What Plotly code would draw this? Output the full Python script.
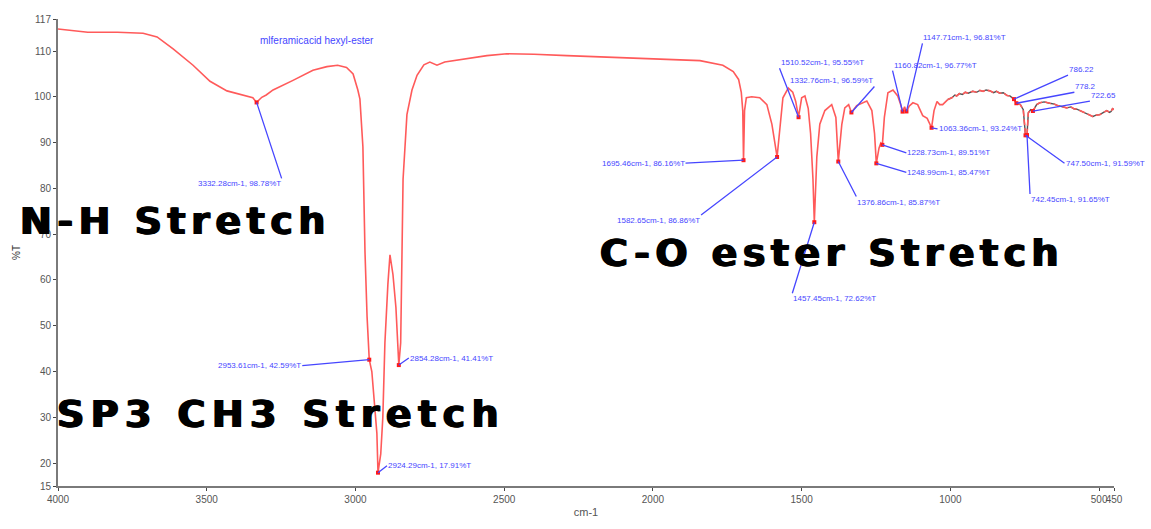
import plotly.graph_objects as go

# FT-IR spectrum of mlferamicacid hexyl-ester (wavenumber in cm-1, transmittance in %T)
wavenumber = [
    4000, 3950, 3900, 3800, 3714, 3667, 3613, 3546, 3489, 3432, 3378, 3345,
    3332.28, 3315, 3300, 3277, 3210, 3143, 3096, 3060, 3030, 3008, 2992, 2985,
    2975, 2968, 2961, 2953.61, 2945, 2935, 2928, 2924.29, 2915, 2908, 2901,
    2891, 2884, 2874, 2864, 2854.28, 2848, 2844, 2840, 2827, 2810, 2793, 2770,
    2750, 2735, 2726, 2700, 2672, 2558, 2491, 2400, 2289, 2121, 1953, 1842,
    1765, 1730, 1712, 1703, 1698, 1695.46, 1692, 1686, 1668, 1641, 1617, 1600,
    1582.65, 1573, 1563, 1545, 1530, 1520, 1510.52, 1500, 1489, 1478, 1470,
    1462, 1457.45, 1449, 1439, 1422, 1399, 1385, 1376.86, 1365, 1355, 1342,
    1332.76, 1315, 1281, 1264, 1255, 1248.99, 1240, 1234, 1228.73, 1222, 1210,
    1193, 1177, 1168, 1160.82, 1154, 1147.71, 1138, 1126, 1110, 1093, 1078,
    1063.36, 1055, 1045, 1036, 1026, 1009,
]
transmittance = [
    114.8, 114.5, 114.1, 114.1, 113.9, 113.1, 110.5, 106.9, 103.4, 101.3, 100.4, 99.8,
    98.78, 99.9, 100.4, 101.5, 103.6, 105.8, 106.6, 106.9, 106.4, 105.0, 101.5, 99.5,
    89.1, 66.2, 52.0, 42.59, 40.0, 33.0, 26.5, 17.91, 22.0, 30.0, 46.3,
    59.1, 65.5, 61.2, 54.0, 41.41, 46.3, 64.0, 82.0, 96.1, 101.5, 104.7, 107.0,
    107.6, 107.2, 106.9, 107.6, 107.9, 109.0, 109.4, 109.3, 109.0, 108.6, 108.3, 107.9,
    106.9, 105.5, 103.8, 101.0, 97.0, 86.16, 97.0, 99.8, 100.0, 99.8, 98.3, 94.0,
    86.86, 94.0, 99.8, 101.9, 101.0, 99.0, 95.55, 99.8, 100.2, 97.5, 92.0,
    82.0, 72.62, 86.9, 94.0, 97.0, 98.3, 95.5, 85.87, 94.0, 97.6, 98.3,
    96.59, 98.1, 99.1, 97.0, 92.0, 85.47, 88.8, 89.9, 89.51, 95.5, 100.9,
    101.5, 100.2, 98.5, 96.77, 97.8, 96.81, 98.0, 98.7, 98.3, 95.9, 95.3,
    93.24, 97.0, 99.0, 98.3, 98.3, 99.4,
]

# Fingerprint tail (1009 - 450 cm-1), drawn over the reference trace
tail_wavenumber = [
    1009, 995, 985, 979, 970, 960, 950, 940, 925, 912, 901, 890, 880, 867,
    855, 845, 834, 822, 810, 800, 786.22, 778.2, 765, 755, 747.50, 742.45,
    738, 730, 722.65, 710, 700, 685, 666, 650, 640, 625, 609, 595, 585,
    575, 565, 550, 540, 530, 521, 510, 498, 485, 474, 465, 460, 455, 450,
]
tail_transmittance = [
    99.4, 99.8, 100.4, 100.2, 100.7, 100.5, 101.0, 100.8, 101.2, 101.0, 101.4, 101.2,
    101.5, 101.3, 100.9, 101.2, 100.8, 100.9, 100.3, 100.2, 99.5, 98.6, 98.3, 97.2,
    91.59, 91.65, 96.5, 97.2, 96.9, 98.3, 98.7, 98.9, 98.6, 98.4, 98.1, 97.9,
    97.6, 97.8, 97.4, 97.3, 97.0, 96.6, 96.4, 96.0, 95.7, 96.0, 96.1, 96.6,
    97.0, 96.6, 96.8, 97.4, 97.2,
]

# Picked peaks: wavenumber, %T and the label printed next to each
peak_wn = [3332.28, 2953.61, 2924.29, 2854.28, 1695.46, 1582.65, 1510.52,
           1332.76, 1457.45, 1376.86, 1228.73, 1248.99, 1160.82, 1147.71,
           1063.36, 786.22, 778.2, 722.65, 747.50, 742.45]
peak_T = [98.78, 42.59, 17.91, 41.41, 86.16, 86.86, 95.55,
          96.59, 72.62, 85.87, 89.51, 85.47, 96.77, 96.81,
          93.24, 99.5, 98.6, 96.9, 91.59, 91.65]
peak_text = [
    "3332.28cm-1, 98.78%T", "2953.61cm-1, 42.59%T", "2924.29cm-1, 17.91%T",
    "2854.28cm-1, 41.41%T", "1695.46cm-1, 86.16%T", "1582.65cm-1, 86.86%T",
    "1510.52cm-1, 95.55%T", "1332.76cm-1, 96.59%T", "1457.45cm-1, 72.62%T",
    "1376.86cm-1, 85.87%T", "1228.73cm-1, 89.51%T", "1248.99cm-1, 85.47%T",
    "1160.82cm-1, 96.77%T", "1147.71cm-1, 96.81%T", "1063.36cm-1, 93.24%T",
    "786.22", "778.2", "722.65", "747.50cm-1, 91.59%T", "742.45cm-1, 91.65%T",
]
# leader-line tail offsets (px) and text anchoring for each peak label
label_ax = [25, -67, 9, 10, -58, -76, -19, 23, -22, 18, 24, 30, -10, 16, 6, 54, 58, 57, 39, 3]
label_ay = [76, 6, -7, -7, 3, 58, -49, -26, 71, 35, 8, 9, -41, -68, 1, -24, -11, -10, 28, 59]
label_xanchor = ["right", "right", "left", "left", "right", "right", "left", "right", "left",
                 "left", "left", "left", "left", "left", "left", "left", "left", "left",
                 "left", "left"]
label_yanchor = ["top", "middle", "middle", "middle", "middle", "top", "bottom", "bottom", "top",
                 "top", "middle", "middle", "bottom", "bottom", "middle", "bottom", "bottom",
                 "bottom", "middle", "top"]

x_ticks = [4000, 3500, 3000, 2500, 2000, 1500, 1000, 500, 450]
y_ticks = [15, 20, 30, 40, 50, 60, 70, 80, 90, 100, 110, 117]

RED = "#ff5a5a"
BLUE = "#4646ff"

fig = go.Figure()
fig.add_trace(go.Scatter(x=wavenumber, y=transmittance, mode="lines",
                         line=dict(color=RED, width=1.6), hoverinfo="skip"))
fig.add_trace(go.Scatter(x=tail_wavenumber, y=tail_transmittance, mode="lines",
                         line=dict(color="#555555", width=1.4), hoverinfo="skip"))
fig.add_trace(go.Scatter(x=tail_wavenumber, y=tail_transmittance, mode="lines",
                         line=dict(color=RED, width=1.6, dash="6px,3px"), hoverinfo="skip"))
fig.add_trace(go.Scatter(x=peak_wn, y=peak_T, mode="markers",
                         marker=dict(color="#ff1a1a", size=4, symbol="square"),
                         hoverinfo="skip"))

annotations = []
for wn, t, txt, ax, ay, xa, ya in zip(peak_wn, peak_T, peak_text, label_ax, label_ay,
                                      label_xanchor, label_yanchor):
    annotations.append(dict(
        x=wn, y=t, xref="x", yref="y", text=txt, showarrow=True,
        arrowhead=0, arrowwidth=1.3, arrowcolor=BLUE, ax=ax, ay=ay,
        xanchor=xa, yanchor=ya, standoff=0, borderpad=0,
        font=dict(family="Liberation Sans", size=8, color=BLUE),
    ))

annotations.append(dict(x=3129, y=112.2, xref="x", yref="y", showarrow=False,
                        text="mlferamicacid hexyl-ester",
                        font=dict(family="Liberation Sans", size=10, color=BLUE)))

# band assignments in large heavy lettering
big_font = dict(family="DejaVu Sans", size=38, color="#000000",
                shadow="0.9px 0 0 #000, -0.9px 0 0 #000")
for txt, px, py, spacing in [("N-H Stretch", -0.038, 0.567, 5.5),
                             ("SP3 CH3 Stretch", -0.003, 0.155, 6.4),
                             ("C-O ester Stretch", 0.511, 0.500, 5.4)]:
    annotations.append(dict(
        x=px, y=py, xref="paper", yref="paper", showarrow=False,
        text=f"<span style='letter-spacing:{spacing}px'><b>{txt}</b></span>",
        xanchor="left", yanchor="middle", font=big_font))

fig.update_layout(
    width=1151, height=529,
    margin=dict(l=58, r=37, t=19, b=35),
    paper_bgcolor="white", plot_bgcolor="white",
    showlegend=False,
    annotations=annotations,
    xaxis=dict(
        range=[4000, 450], tickvals=x_ticks, ticktext=[str(v) for v in x_ticks],
        tickangle=0,
        showgrid=False, zeroline=False, showline=True, linecolor="#7a7a7a", linewidth=2,
        ticks="outside", ticklen=3, tickcolor="#444444",
        tickfont=dict(family="Liberation Sans", size=10, color="#555555"),
        title=dict(text="cm-1", font=dict(family="Liberation Sans", size=11, color="#555555"),
                   standoff=4),
    ),
    yaxis=dict(
        range=[15, 117], tickvals=y_ticks, ticktext=[str(v) for v in y_ticks],
        showgrid=False, zeroline=False, showline=True, linecolor="#7a7a7a", linewidth=2,
        ticks="outside", ticklen=3, tickcolor="#444444",
        tickfont=dict(family="Liberation Sans", size=10, color="#555555"),
        title=dict(text="%T", font=dict(family="Liberation Sans", size=10, color="#333333"),
                   standoff=12),
    ),
)

fig.write_html("out.html")
